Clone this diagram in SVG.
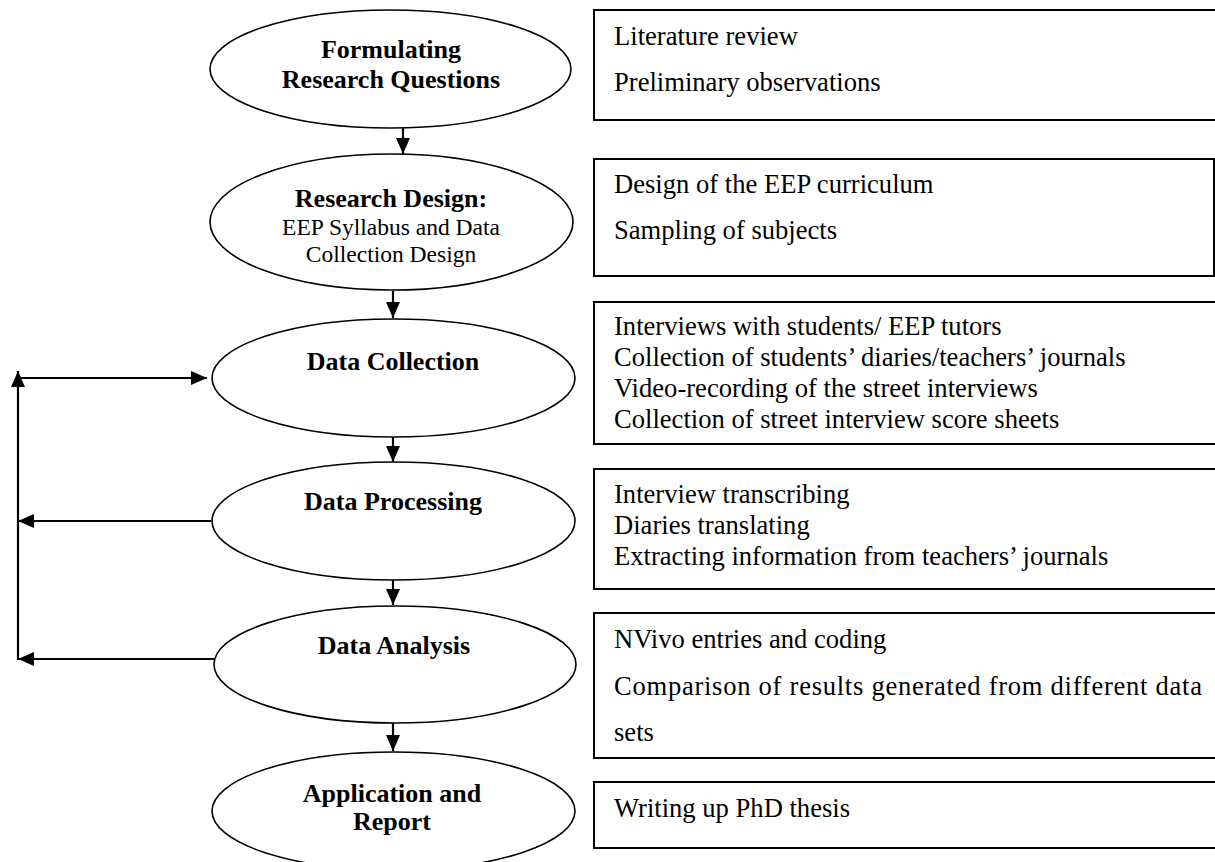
<svg xmlns="http://www.w3.org/2000/svg" width="1215" height="862" viewBox="0 0 1215 862">
<style>
.ell{fill:#fff;stroke:#000;stroke-width:1.6}
.box{fill:#fff;stroke:#000;stroke-width:2}
.con{fill:none;stroke:#000;stroke-width:2.2}
.hd{font-family:"Liberation Serif","Times New Roman",serif;font-weight:bold;font-size:26px;text-anchor:middle;fill:#000}
.sub{font-family:"Liberation Serif","Times New Roman",serif;font-size:23.5px;text-anchor:middle;fill:#000}
.bt{font-family:"Liberation Serif","Times New Roman",serif;font-size:26.6px;fill:#000}
</style>
<defs>
<marker id="ah" markerUnits="userSpaceOnUse" markerWidth="16" markerHeight="14" refX="16" refY="7" orient="auto">
<path d="M0,0 L16,7 L0,14 Z" fill="#000"/>
</marker>
</defs>
<rect width="1215" height="862" fill="#fff"/>

<g id="connectors">
<line class="con" x1="403" y1="128" x2="403" y2="154" marker-end="url(#ah)"/>
<line class="con" x1="393" y1="291" x2="393" y2="318" marker-end="url(#ah)"/>
<line class="con" x1="393" y1="437" x2="393" y2="462" marker-end="url(#ah)"/>
<line class="con" x1="393" y1="580" x2="393" y2="605" marker-end="url(#ah)"/>
<line class="con" x1="393" y1="723" x2="393" y2="751" marker-end="url(#ah)"/>
<line class="con" x1="18" y1="660" x2="18" y2="371" marker-end="url(#ah)"/>
<line class="con" x1="18" y1="378" x2="207" y2="378" marker-end="url(#ah)"/>
<line class="con" x1="211" y1="521" x2="18" y2="521" marker-end="url(#ah)"/>
<line class="con" x1="214" y1="659" x2="18" y2="659" marker-end="url(#ah)"/>
</g>

<g id="n1">
<ellipse class="ell" cx="390.5" cy="69" rx="180.5" ry="59"/>
<text class="hd" x="391" y="58">Formulating</text>
<text class="hd" x="391" y="88">Research Questions</text>
</g>
<g id="n2">
<ellipse class="ell" cx="391.5" cy="222" rx="181.5" ry="68"/>
<text class="hd" x="391" y="207">Research Design:</text>
<text class="sub" x="391" y="235">EEP Syllabus and Data</text>
<text class="sub" x="391" y="262">Collection Design</text>
</g>
<g id="n3">
<ellipse class="ell" cx="393.5" cy="378" rx="181.5" ry="59"/>
<text class="hd" x="393" y="370">Data Collection</text>
</g>
<g id="n4">
<ellipse class="ell" cx="393.5" cy="521" rx="181.5" ry="59"/>
<text class="hd" x="393" y="510">Data Processing</text>
</g>
<g id="n5">
<ellipse class="ell" cx="395" cy="664.5" rx="181" ry="58.5"/>
<text class="hd" x="394" y="654">Data Analysis</text>
</g>
<g id="n6">
<ellipse class="ell" cx="393.5" cy="811" rx="181.5" ry="59"/>
<text class="hd" x="392" y="802">Application and</text>
<text class="hd" x="392" y="830">Report</text>
</g>

<g id="b1">
<rect class="box" x="594" y="10" width="630" height="110"/>
<text class="bt" x="614" y="45">Literature review</text>
<text class="bt" x="614" y="91">Preliminary observations</text>
</g>
<g id="b2">
<rect class="box" x="594" y="159" width="620" height="117"/>
<text class="bt" x="614" y="193">Design of the EEP curriculum</text>
<text class="bt" x="614" y="239">Sampling of subjects</text>
</g>
<g id="b3">
<rect class="box" x="594" y="302" width="630" height="142"/>
<text class="bt" x="614" y="335">Interviews with students/ EEP tutors</text>
<text class="bt" x="614" y="366">Collection of students’ diaries/teachers’ journals</text>
<text class="bt" x="614" y="397">Video-recording of the street interviews</text>
<text class="bt" x="614" y="428">Collection of street interview score sheets</text>
</g>
<g id="b4">
<rect class="box" x="594" y="469" width="630" height="120"/>
<text class="bt" x="614" y="503">Interview transcribing</text>
<text class="bt" x="614" y="534">Diaries translating</text>
<text class="bt" x="614" y="565">Extracting information from teachers’ journals</text>
</g>
<g id="b5">
<rect class="box" x="594" y="613" width="630" height="145"/>
<text class="bt" x="614" y="648">NVivo entries and coding</text>
<text class="bt" x="614" y="695" textLength="588" lengthAdjust="spacing">Comparison of results generated from different data</text>
<text class="bt" x="614" y="741">sets</text>
</g>
<g id="b6">
<rect class="box" x="594" y="782" width="630" height="66"/>
<text class="bt" x="614" y="817">Writing up PhD thesis</text>
</g>
</svg>
